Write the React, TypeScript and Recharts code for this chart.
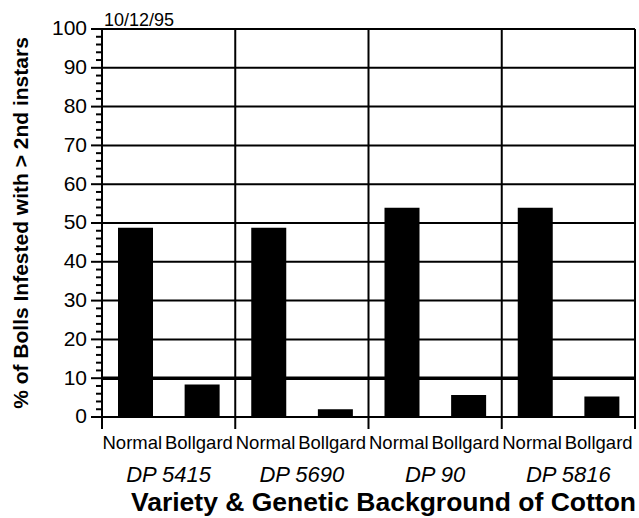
import React from 'react';
import { BarChart, Bar, XAxis, YAxis, ReferenceLine, Label } from 'recharts';

const varieties = ['DP 5415', 'DP 5690', 'DP 90', 'DP 5816'];
const treatments = ['Normal', 'Bollgard'];
const normalValues = [48.8, 48.8, 53.9, 53.9];
const bollgardValues = [8.4, 2.0, 5.7, 5.3];

const yTicks = [
  0, 2, 4, 6, 8, 10, 12, 14, 16, 18, 20, 22, 24, 26, 28, 30, 32, 34, 36, 38, 40,
  42, 44, 46, 48, 50, 52, 54, 56, 58, 60, 62, 64, 66, 68, 70, 72, 74, 76, 78, 80,
  82, 84, 86, 88, 90, 92, 94, 96, 98, 100,
];
const gridValues = [0, 20, 30, 40, 50, 60, 70, 80, 90, 100];
const thresholdValue = 10;
const dateText = '10/12/95';

const data = varieties.flatMap((v, i) => [
  { key: `${v}-n`, treatment: treatments[0], variety: v, value: normalValues[i] },
  { key: `${v}-b`, treatment: treatments[1], variety: v, value: bollgardValues[i] },
]);

const FONT = '"Liberation Sans", Arial, Helvetica, sans-serif';

const YTick = (props: any) => {
  const { x, y, payload } = props;
  const major = payload.value % 10 === 0;
  return (
    <g>
      <line x1={x - (major ? 11 : 6)} x2={x} y1={y} y2={y} stroke="#000" strokeWidth={2} />
      {major && (
        <text x={x - 15} y={y} dy="0.3em" textAnchor="end" fontSize={21} fontFamily={FONT} fill="#000">
          {payload.value}
        </text>
      )}
    </g>
  );
};

const CatTick = (props: any) => {
  const { x, y, index } = props;
  return (
    <text x={x - 3} y={y + 32} textAnchor="middle" fontSize={18.5} fontFamily={FONT} fill="#000">
      {data[index] ? data[index].treatment : ''}
    </text>
  );
};

const VarTick = (props: any) => {
  const { x, y, payload } = props;
  return (
    <text x={x} y={y + 32} textAnchor="middle" fontSize={22} fontStyle="italic" fontFamily={FONT} fill="#000">
      {payload.value}
    </text>
  );
};

const renderTitle = (props: any) => {
  const vb = props.viewBox;
  return (
    <text x={vb.x + vb.width / 2 + 15} y={vb.y + 61} textAnchor="middle" fontSize={26.5} fontWeight="bold" fontFamily={FONT} fill="#000">
      Variety &amp; Genetic Background of Cotton
    </text>
  );
};

const renderYLabel = (props: any) => {
  const vb = props.viewBox;
  const cx = 28;
  const cy = vb.y + vb.height / 2;
  return (
    <text x={cx} y={cy} transform={`rotate(-90, ${cx}, ${cy})`} textAnchor="middle" fontSize={21} fontWeight="bold" fontFamily={FONT} fill="#000">
      % of Bolls Infested with &gt; 2nd instars
    </text>
  );
};

const renderDate = (props: any) => {
  const vb = props.viewBox;
  return (
    <text x={vb.x + 2} y={vb.y - 3} fontSize={18} fontFamily={FONT} fill="#000">
      {dateText}
    </text>
  );
};

const edgeLine = (p: any) => (
  <line
    x1={p.x1}
    x2={p.x2}
    y1={Math.min(p.y1, p.y2)}
    y2={Math.max(p.y1, p.y2) + 12}
    stroke="#000"
    strokeWidth={2}
  />
);

export default function App() {
  return (
    <div style={{ background: '#fff' }}>
      <style>{'body{margin:0;background:#fff}'}</style>
      <BarChart
        width={639}
        height={518}
        data={data}
        margin={{ top: 29, right: 4, bottom: 0, left: 0 }}
        barCategoryGap={0}
      >
        <XAxis
          xAxisId="cat"
          dataKey="key"
          height={33}
          interval={0}
          tickSize={0}
          tickMargin={0}
          axisLine={false}
          tickLine={false}
          tick={<CatTick />}
        />
        <XAxis
          xAxisId="var"
          dataKey="variety"
          allowDuplicatedCategory={false}
          interval={0}
          height={68}
          tickSize={0}
          tickMargin={0}
          axisLine={false}
          tickLine={false}
          tick={<VarTick />}
          label={<Label content={renderTitle} />}
        />
        <YAxis
          domain={[0, 100]}
          ticks={yTicks}
          interval={0}
          width={102}
          tickSize={0}
          tickMargin={0}
          axisLine={false}
          tickLine={false}
          tick={<YTick />}
          label={<Label content={renderYLabel} />}
        />
        {gridValues.map((v) => (
          <ReferenceLine key={`g${v}`} xAxisId="cat" y={v} stroke="#000" strokeWidth={2}>
            {v === 100 ? <Label content={renderDate} /> : null}
          </ReferenceLine>
        ))}
        <ReferenceLine xAxisId="cat" y={thresholdValue} stroke="#000" strokeWidth={3.5} />
        {varieties.map((v) => (
          <ReferenceLine key={`e${v}`} xAxisId="var" x={v} position="start" shape={edgeLine} />
        ))}
        <ReferenceLine xAxisId="var" x={varieties[varieties.length - 1]} position="end" shape={edgeLine} />
        <Bar xAxisId="cat" dataKey="value" fill="#000" barSize={35} isAnimationActive={false} />
      </BarChart>
    </div>
  );
}
